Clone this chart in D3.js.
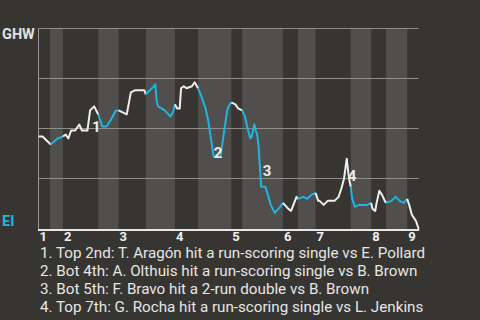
<!DOCTYPE html>
<html>
<head>
<meta charset="utf-8">
<script src="https://d3js.org/d3.v7.min.js"></script>
<style>
  body { margin: 0; background: #373532; }
  svg { display: block; }
  text { font-family: Roboto, "Noto Sans", sans-serif; }
</style>
</head>
<body>
<svg width="480" height="320"></svg>
<script>

var teams = ["GHW", "EI"];
var innings = ["1", "2", "3", "4", "5", "6", "7", "8", "9"];
// pitch count where each half inning ends (top 1st, bot 1st, ...)
var halfEnds = [8.5, 18, 44, 59, 79, 100.5, 117.5, 142, 150, 180, 191, 204, 230, 245, 256, 271.5, 280];
// game progress (pitches) and GHW win probability
var pitch = [0, 3, 9, 14, 18, 20, 22, 24, 27, 30, 32, 36, 38, 41, 44, 47, 50, 53, 57, 59,
  62, 65, 68, 71, 78, 79, 85, 86, 87, 88, 93, 97, 99, 100.5, 102, 104, 105, 107, 109, 113,
  115, 117.5, 120, 123, 125, 127, 129, 134, 137, 139, 140, 142, 145, 147, 150, 152, 154, 156, 157, 158,
  159, 160, 161, 162, 164, 167, 169, 171, 174, 178, 180, 184, 186, 190, 191, 195, 198, 201, 204, 206,
  207, 210, 213, 218, 221, 223, 225, 226, 227, 228, 229, 230, 231, 233, 236, 239, 242, 245, 246, 248,
  249, 251, 253, 255, 256, 260, 263, 266, 269, 271.5, 273, 275, 278, 280];
var winProb = [0.46, 0.46, 0.42, 0.45, 0.46, 0.47, 0.45, 0.49, 0.49, 0.52, 0.49, 0.49, 0.59, 0.61, 0.57, 0.51, 0.51, 0.54, 0.59, 0.59,
  0.58, 0.57, 0.68, 0.69, 0.69, 0.67, 0.71, 0.72, 0.64, 0.61, 0.59, 0.56, 0.58, 0.62, 0.60, 0.60, 0.70, 0.71, 0.70, 0.71,
  0.73, 0.70, 0.66, 0.60, 0.54, 0.45, 0.36, 0.36, 0.50, 0.59, 0.61, 0.63, 0.62, 0.60, 0.59, 0.56, 0.50, 0.45, 0.46, 0.49,
  0.52, 0.49, 0.47, 0.42, 0.21, 0.21, 0.17, 0.12, 0.08, 0.11, 0.13, 0.10, 0.09, 0.16, 0.15, 0.16, 0.15, 0.17, 0.18, 0.14,
  0.14, 0.12, 0.14, 0.14, 0.16, 0.20, 0.25, 0.30, 0.35, 0.29, 0.24, 0.21, 0.15, 0.11, 0.12, 0.12, 0.12, 0.13, 0.10, 0.09,
  0.13, 0.19, 0.17, 0.14, 0.13, 0.14, 0.16, 0.14, 0.13, 0.15, 0.12, 0.07, 0.04, 0.00];
// key plays
var eventPitch = [38, 129, 164, 227];
var eventText = [
  "Top 2nd: T. Aragón hit a run-scoring single vs E. Pollard",
  "Bot 4th: A. Olthuis hit a run-scoring single vs B. Brown",
  "Bot 5th: F. Bravo hit a 2-run double vs B. Brown",
  "Top 7th: G. Rocha hit a run-scoring single vs L. Jenkins"
];

var colors = { away: "#eeeeec", home: "#22b4de" };

var svg = d3.select("svg");
var plotL = 38.5, plotR = 418.7, plotT = 28, plotB = 229;

svg.append("rect").attr("width", 480).attr("height", 320).attr("fill", "#373532");

var x = d3.scaleLinear().domain([0, d3.max(halfEnds)]).range([plotL, plotR]);
var y = d3.scaleLinear().domain([0, 1]).range([plotB, plotT]);

// half inning bands
var halves = halfEnds.map(function(e, i) { return { start: i ? halfEnds[i - 1] : 0, end: e, i: i }; });
svg.append("g").selectAll("rect")
  .data(halves.filter(function(d) { return d.i % 2 == 1; }))
  .join("rect")
    .attr("x", function(d) { return x(d.start); })
    .attr("width", function(d) { return x(d.end) - x(d.start); })
    .attr("y", plotT)
    .attr("height", plotB - plotT)
    .attr("fill", "#504f4d");

// gridlines
svg.append("g").selectAll("line")
  .data([0.25, 0.5, 0.75, 1])
  .join("line")
    .attr("x1", plotL).attr("x2", plotR)
    .attr("y1", function(d) { return Math.floor(y(d)) + 0.5; })
    .attr("y2", function(d) { return Math.floor(y(d)) + 0.5; })
    .attr("stroke", "#8e8d8a")
    .attr("stroke-width", 1);

svg.append("line")
  .attr("x1", plotL).attr("x2", plotL)
  .attr("y1", plotT).attr("y2", plotB + 1)
  .attr("stroke", "#9a9996");

svg.append("line")
  .attr("x1", plotL - 0.5).attr("x2", plotR + 0.5)
  .attr("y1", plotB + 1).attr("y2", plotB + 1)
  .attr("stroke", "#e6e6e4")
  .attr("stroke-width", 2);

// the line, split into runs by which team is batting
var pts = pitch.map(function(p, i) { return [p, winProb[i]]; });
function halfOf(p) { return d3.bisectRight(halfEnds, p); }
var runs = [];
for (var i = 0; i < pts.length - 1; i++) {
  var h = halfOf((pts[i][0] + pts[i + 1][0]) / 2) % 2;
  var last = runs[runs.length - 1];
  if (last && last.h == h) last.pts.push(pts[i + 1]);
  else runs.push({ h: h, pts: [pts[i], pts[i + 1]] });
}
var line = d3.line().x(function(d) { return x(d[0]); }).y(function(d) { return y(d[1]); });
svg.append("g").selectAll("path")
  .data(runs)
  .join("path")
    .attr("d", function(d) { return line(d.pts); })
    .attr("fill", "none")
    .attr("stroke", function(d) { return d.h ? colors.home : colors.away; })
    .attr("stroke-width", 2)
    .attr("stroke-linejoin", "round");

// key play numbers
var labelShift = [[2, 22], [0, 1], [1.5, -11], [1, 22]];
svg.append("g").selectAll("text")
  .data(eventPitch)
  .join("text")
    .attr("x", function(d, i) { return x(d) + labelShift[i][0]; })
    .attr("y", function(d, i) { return y(winProb[pitch.indexOf(d)]) + labelShift[i][1]; })
    .attr("fill", "#ececea")
    .attr("font-size", 15)
    .attr("font-weight", "bold")
    .text(function(d, i) { return i + 1; });

// inning numbers
svg.append("g").selectAll("text")
  .data(innings)
  .join("text")
    .attr("x", function(d, i) { return x(i ? halfEnds[2 * i - 1] : 0) + 1; })
    .attr("y", 241)
    .attr("fill", "#f0f0ee")
    .attr("font-size", 13)
    .attr("font-weight", "bold")
    .text(function(d) { return d; });

// team labels
svg.append("text").attr("x", 2).attr("y", 39)
  .attr("fill", "#e2e2e0").attr("font-size", 14.5).attr("font-weight", "bold")
  .text(teams[0]);
svg.append("text").attr("x", 2).attr("y", 226)
  .attr("fill", colors.home).attr("font-size", 14.5).attr("font-weight", "bold")
  .text(teams[1]);

// play list
svg.append("g").selectAll("text")
  .data(eventText)
  .join("text")
    .attr("x", 40)
    .attr("y", function(d, i) { return 257.5 + i * 18; })
    .attr("fill", "#e6e6e4")
    .attr("font-size", 15.2)
    .text(function(d, i) { return (i + 1) + ". " + d; });

</script>
</body>
</html>
